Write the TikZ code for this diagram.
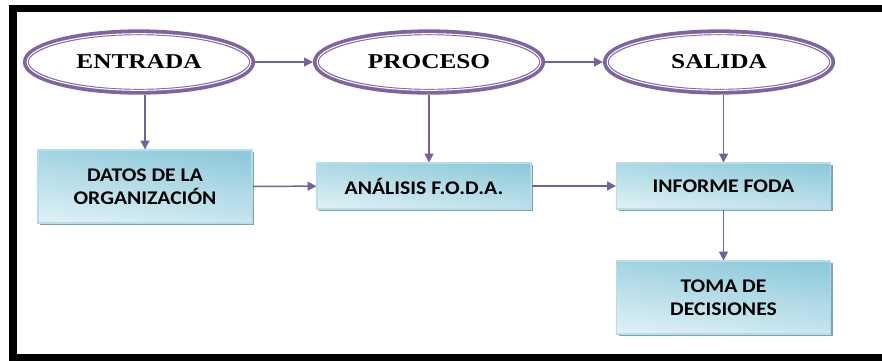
\documentclass[tikz,border=0pt]{standalone}
\usepackage{fontspec}
\usetikzlibrary{positioning,shapes.geometric,arrows.meta,shadows}
\newfontfamily\ovalfont[FakeStretch=1.2]{Liberation Serif}
\newfontfamily\boxfont[FakeStretch=1.12]{Carlito}
\definecolor{ovalpurple}{HTML}{8064A2}
\definecolor{linkpurple}{HTML}{74609A}
\definecolor{boxdark}{HTML}{8ECADB}
\definecolor{boxlight}{HTML}{DCEFF4}
\definecolor{boxedge}{HTML}{B7DEE8}
\definecolor{boxshadow}{HTML}{7FA3AD}

\begin{document}
\begin{tikzpicture}[x=0.02cm,y=-0.02cm,
  oval/.style={ellipse, draw=ovalpurple, line width=3.3pt, inner sep=0pt,
    minimum width=4.53cm, minimum height=1.19cm,
    font=\ovalfont\bfseries\fontsize{12}{14}\selectfont},
  ovalgap/.style={draw=white, line width=0.6pt},
  stepbox/.style={rectangle, draw=boxedge, line width=0.6pt, inner sep=0pt,
    top color=boxdark, bottom color=boxlight, shading angle=-8,
    drop shadow={shadow xshift=1.2pt, shadow yshift=-1.2pt, fill=boxshadow, opacity=1},
    minimum width=4.28cm, align=center,
    font=\boxfont\bfseries\fontsize{11}{13}\selectfont},
  link/.style={draw=linkpurple, line width=0.85pt, -{Triangle[length=5pt,width=5pt]}}]
\useasboundingbox (0,0) rectangle (882,360);
\clip (0,0) rectangle (882,360);
\draw[line width=4.5pt] (900,8.5) -- (13,8.5) -- (13,358) -- (900,358);

% stages
\node[oval] (entrada) at (139,62) {ENTRADA};
\node[oval] (proceso) at (429,62) {PROCESO};
\node[oval] (salida) at (719,62) {SALIDA};
\draw[ovalgap] (entrada.center) ellipse (111.8 and 28.3);
\draw[ovalgap] (proceso.center) ellipse (111.8 and 28.3);
\draw[ovalgap] (salida.center) ellipse (111.8 and 28.3);

% boxes
\node[stepbox, minimum height=1.46cm] (datos) at (145,186.5) {DATOS DE LA\\ORGANIZACIÓN};
\node[stepbox, minimum height=0.92cm] (analisis) at (424,186) {ANÁLISIS F.O.D.A.};
\node[stepbox, minimum height=0.92cm] (informe) at (723.5,186) {INFORME FODA};
\node[stepbox, minimum height=1.46cm] (toma) at (723.5,297.5) {TOMA DE\\DECISIONES};

% arrows
\draw[link] (entrada) -- (proceso);
\draw[link] (proceso) -- (salida);
\draw[link] (datos.north |- entrada.south) -- (datos.north);
\draw[link] (proceso.south) -- (proceso.south |- analisis.north);
\draw[link] (informe.north |- salida.south) -- (informe.north);
\draw[link] (datos) -- (analisis);
\draw[link] (analisis) -- (informe);
\draw[link] (informe) -- (toma);
\end{tikzpicture}
\end{document}
